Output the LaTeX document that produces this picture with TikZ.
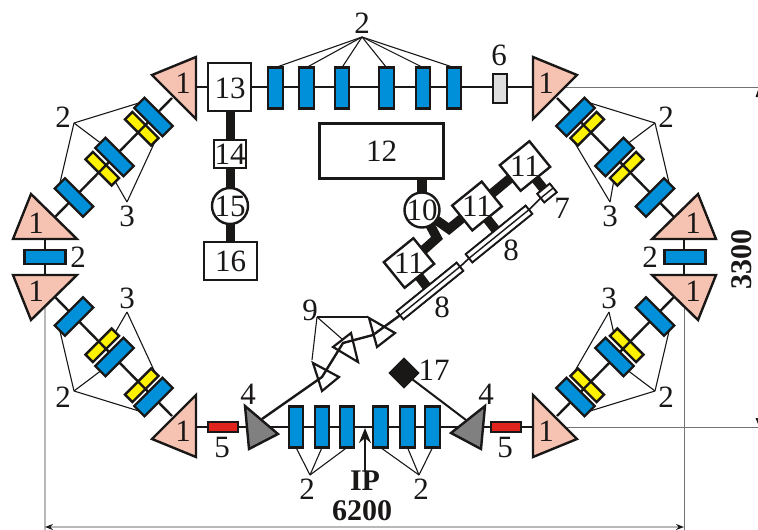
\documentclass[tikz,border=0pt]{standalone}
\usepackage{fontspec}
\setmainfont{Liberation Serif}
\usetikzlibrary{arrows.meta}
\definecolor{ink}{HTML}{1A1717}
\definecolor{pinkfill}{HTML}{F6C3B2}
\definecolor{bluefill}{HTML}{0090DA}
\definecolor{yellowfill}{HTML}{FFF200}
\definecolor{redfill}{HTML}{E0231C}
\definecolor{darkgrayfill}{HTML}{808080}
\definecolor{lightfill}{HTML}{DEDEDE}
\tikzset{
  x=1pt,y=-1pt,
  lab/.style={inner sep=0pt,outer sep=0pt,text=ink,font=\fontsize{31}{31}\selectfont},
  boldlab/.style={lab,font=\fontsize{30}{30}\selectfont\bfseries},
  box/.style={draw=ink,line width=2.4pt,fill=white,inner sep=0pt,outer sep=0pt},
  bluebox/.style={box,fill=bluefill},
  yellowbox/.style={box,fill=yellowfill,minimum width=37pt,minimum height=10.5pt,transform shape,rotate=-45},
  diagblue/.style={bluebox,minimum width=40pt,minimum height=14.5pt,transform shape,rotate=-45},
  vblue/.style={bluebox,minimum width=14.5pt,minimum height=41pt},
  tri/.style={draw=ink,line width=2.4pt,line join=miter,fill=pinkfill},
  graytri/.style={draw=ink,line width=2.4pt,fill=darkgrayfill},
  smalltri/.style={draw=ink,line width=2.2pt},
  beam/.style={draw=ink,line width=2.4pt},
  finebeam/.style={draw=ink,line width=1.6pt},
  heavy/.style={draw=ink,line width=9pt},
  feed/.style={draw=ink,line width=9.5pt},
  leader/.style={draw=ink,line width=1.1pt},
  guide/.style={box,line width=1.8pt,minimum width=77pt,minimum height=10.5pt,rotate=39},
  klystron/.style={box,rotate=39},
  dimdark/.style={draw=black!55,line width=1pt},
  dimlight/.style={draw=black!28,line width=1.5pt},
}
\begin{document}
\begin{tikzpicture}
\useasboundingbox (0,0) rectangle (758,530);

% dimension lines (behind everything)
\coordinate (dimTopA) at (560,87);
\coordinate (dimTopB) at (758,87);
\coordinate (dimBotA) at (560,427);
\coordinate (dimBotB) at (758,427);
\coordinate (dimLa) at (45,275);
\coordinate (dimLb) at (45,530);
\coordinate (dimRa) at (684,275);
\coordinate (dimRb) at (684,530);
\coordinate (dimHa) at (45,527);
\coordinate (dimHb) at (684,527);
\draw[dimdark] (dimTopA) -- (dimTopB);
\draw[dimdark] (dimBotA) -- (dimBotB);
\draw[dimlight] (dimLa) -- (dimLb);
\draw[dimdark] (dimRa) -- (dimRb);
\draw[dimlight,{Stealth[length=8pt,width=6pt,color=ink]}-{Stealth[length=8pt,width=6pt,color=ink]}] (dimHa) -- (dimHb);
\fill[ink] (758,90) -- (758,97) -- (755.5,97) -- cycle;
\fill[ink] (758,424) -- (758,418) -- (755.5,418) -- cycle;

% straight sections
\coordinate (topL) at (196,87);
\coordinate (topR) at (532,87);
\coordinate (botL) at (196,427);
\coordinate (botR) at (532,427);
\draw[beam] (topL) -- (topR);
\draw[beam] (botL) -- (botR);
\coordinate (midLa) at (45,239);
\coordinate (midLb) at (45,275);
\coordinate (midRa) at (684,239);
\coordinate (midRb) at (684,275);
\draw[beam] (midLa) -- (midLb);
\draw[beam] (midRa) -- (midRb);
\node[bluebox,minimum width=41pt,minimum height=14pt] (midblueL) at (45,257) {};
\node[bluebox,minimum width=41pt,minimum height=14pt] (midblueR) at (685,257) {};
\node[lab] (lmidL) at (78,257) {2};
\node[lab] (lmidR) at (650,257) {2};

% four mirrored arcs
\foreach \q/\sx/\sy/\ax in {tl/1/1/-237.5,tr/-1/1/-245.5,bl/1/-1/-237.5,br/-1/-1/-244.5}{
\begin{scope}[shift={(364.5,257)},xscale=\sx,yscale=\sy]
  \node[yellowbox] (\q y1) at (-222.7,-128.3) {};
  \node[yellowbox] (\q y2) at (-262.2,-88.3) {};
  \coordinate (\q c1) at (-192.5,-159);
  \coordinate (\q c2) at (-309.5,-40);
  \draw[beam] (\q c1) -- (\q c2);
  \node[diagblue] (\q b1) at (-211,-140) {};
  \node[diagblue] (\q b2) at (-250,-100) {};
  \node[diagblue] (\q b3) at (-290.5,-59.5) {};
  \coordinate (\q a2) at (-290.5,-134);
  \coordinate (\q a3) at (\ax,-55);
  \draw[leader] (\q a2) -- (\q b1.west);
  \draw[leader] (\q a2) -- (\q b2.west);
  \draw[leader] (\q a2) -- (\q b3.west);
  \draw[leader] (\q a3) -- (\q y1.east);
  \draw[leader] (\q a3) -- (\q y2.east);
  \draw[tri] (-212.5,-182) -- (-168.5,-200) -- (-168.5,-138) -- cycle;
  \draw[tri] (-351.5,-18) -- (-287.5,-18) -- (-333.5,-63) -- cycle;
  \node[lab] (\q one) at (-181.5,-174) {1};
  \node[lab] (\q two) at (-328.5,-34) {1};
  \node[lab] (\q lb) at (-301.5,-140) {2};
  \node[lab] (\q lc) at (\ax,-41) {3};
\end{scope}
}

% top straight
\draw[heavy] (230,112) -- (230,241);
\node[box,minimum width=43pt,minimum height=48pt] (n13) at (229.5,87) {};
\node[lab] (l13) at (230,88) {13};
\node[box,minimum width=32pt,minimum height=28pt] (n14) at (230,154) {};
\node[lab] at (n14.center) {14};
\node[box,circle,minimum size=36pt] (n15) at (230,206) {};
\node[lab] at (n15.center) {15};
\node[box,minimum width=53pt,minimum height=38pt] (n16) at (230.5,261) {};
\node[lab] at (n16.center) {16};
\foreach \n/\xx in {a/275.5,b/306.5,c/342,d/386.5,e/423,f/454}{
  \node[vblue] (top\n) at (\xx,88) {};
}
\node[box,fill=lightfill,minimum width=14pt,minimum height=29pt] (n6) at (500,88.5) {};
\node[lab] (l6) at (499,55) {6};
\coordinate (apexTop) at (362,37);
\node[lab] (ltop) at (362,23) {2};
\foreach \n in {a,b,c,d,e,f}{ \draw[leader] (apexTop) -- (top\n.north); }

% bottom straight
\node[box,fill=redfill,minimum width=30pt,minimum height=10pt] (redL) at (223,427) {};
\node[box,fill=redfill,minimum width=30pt,minimum height=10pt] (redR) at (506,427) {};
\node[lab] (l5L) at (222,447) {5};
\node[lab] (l5R) at (505,447) {5};
\foreach \n/\xx in {a/296,b/322,c/347,d/380.5,e/407.5,f/432.5}{
  \node[vblue] (bot\n) at (\xx,427) {};
}
\coordinate (apexBL) at (310,475);
\coordinate (apexBR) at (419,475);
\foreach \n in {a,b,c}{ \draw[leader] (apexBL) -- (bot\n.south); }
\foreach \n in {d,e,f}{ \draw[leader] (apexBR) -- (bot\n.south); }
\node[lab] (l2BL) at (307,489) {2};
\node[lab] (l2BR) at (421,489) {2};
\node[boldlab] (lIP) at (365,481) {IP};
\coordinate (ipTip) at (365,428);
\draw[draw=ink,line width=2.2pt,-{Stealth[length=15pt,width=12pt]}] (lIP.north) -- (ipTip);
\node[boldlab] (l6200) at (362,511) {6200};
\node[boldlab,rotate=90] (l3300) at (742,259) {3300};

% linac side: heavy feeds
\node[box,minimum width=124pt,minimum height=55pt] (n12) at (381.5,151) {};
\node[lab] at (n12.center) {12};
\coordinate (c10) at (422,210);
\coordinate (jA) at (449,229);
\coordinate (jB) at (437,238);
\node[guide] (w8a) at (499,234) {};
\node[guide] (w8b) at (430,291) {};
\node[box,line width=1.8pt,minimum width=16pt,minimum height=11pt,rotate=39] (m7) at (547,193) {};
\coordinate (k1) at (525,166);
\coordinate (k2) at (477,206);
\coordinate (k3) at (409,263);
\draw[feed] (k1) -- (m7.center);
\draw[feed] (k2) -- (w8a.center);
\draw[feed] (k3) -- (w8b.center);
\draw[feed] (k1) -- (k2);
\draw[feed,line join=miter] (c10) -- (jA) -- (k2);
\draw[feed,line join=miter] (c10) -- (jB) -- (k3);
\draw[feed] (n12.south -| c10) -- (c10);
% guides over the feeds
\node[guide] (w8aT) at (w8a.center) {};
\node[guide] (w8bT) at (w8b.center) {};
\node[box,line width=1.8pt,minimum width=16pt,minimum height=11pt,rotate=39] (m7T) at (m7.center) {};
\draw[leader,line width=1.4pt] (w8aT.west) -- (w8aT.east);
\draw[leader,line width=1.4pt] (w8bT.west) -- (w8bT.east);
\draw[leader,line width=1.4pt] (m7T.west) -- (m7T.east);
\node[klystron,minimum width=38pt,minimum height=33pt] (n11a) at (k1) {};
\node[klystron,minimum width=38pt,minimum height=32pt] (n11b) at (k2) {};
\node[klystron,minimum width=38pt,minimum height=33pt] (n11c) at (k3) {};
\node[lab] at (n11a.center) {11};
\node[lab] at (n11b.center) {11};
\node[lab] at (n11c.center) {11};
\node[box,circle,minimum size=35pt] (n10) at (c10) {};
\node[lab] at (n10.center) {10};
\node[lab] (l7) at (562,208) {7};
\node[lab] (l8a) at (511,250) {8};
\node[lab] (l8b) at (442,307) {8};

% transfer line and bending magnets
\coordinate (b0) at (262,419);
\coordinate (b1) at (322,377);
\coordinate (b2) at (343,343);
\coordinate (b3) at (373,335);
\draw[beam] (b0) -- (b1) -- (b2) -- (b3) -- (w8bT.west);
\draw[finebeam] (w8bT.east) -- (w8aT.west);
\draw[finebeam] (w8aT.east) -- (m7T.west);
\draw[smalltri] (313,363) -- (339,377) -- (322,391) -- cycle;
\draw[smalltri] (351,333) -- (358,362) -- (333,347) -- cycle;
\draw[smalltri] (369,318) -- (395,333) -- (377,347) -- cycle;
\coordinate (apex9) at (317,317);
\coordinate (to9a) at (312,360);
\coordinate (to9b) at (342,339);
\coordinate (to9c) at (368,317);
\draw[leader] (apex9) -- (to9a);
\draw[leader] (apex9) -- (to9b);
\draw[leader] (apex9) -- (to9c);
\node[lab] (l9) at (310,310) {9};

% injection triangles
\draw[graytri] (245,406) -- (278,434) -- (249,449) -- cycle;
\draw[graytri] (485,406) -- (451,433) -- (481,449) -- cycle;
\node[lab] (l4L) at (248,394) {4};
\node[lab] (l4R) at (486,394) {4};

% 17
\coordinate (tail17) at (466,420);
\node[fill=ink,minimum size=22pt,inner sep=0pt,rotate=45] (n17) at (404,373) {};
\draw[draw=ink,line width=2pt] (n17.center) -- (tail17);
\node[lab] (l17) at (434,370) {17};
\end{tikzpicture}
\end{document}
